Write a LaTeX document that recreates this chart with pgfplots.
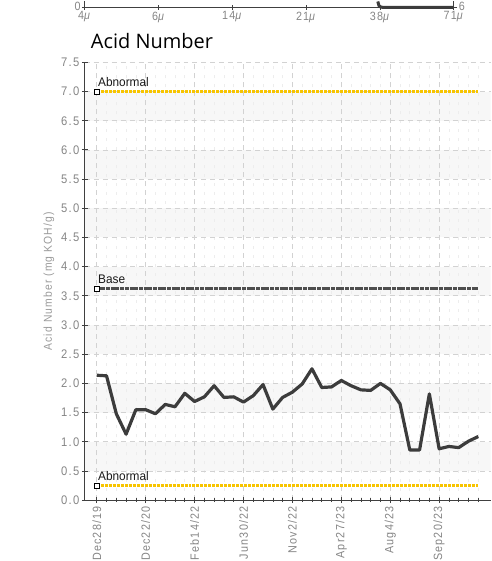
\documentclass[border=0pt]{standalone}
\usepackage{fontspec}
\setmainfont{Liberation Sans}
\newfontfamily\lbl[FakeStretch=0.9,LetterSpace=10]{Liberation Sans}
\newfontfamily\lblB[FakeStretch=0.95]{Liberation Sans}
\newfontfamily\ttl{Open Sans}
\usepackage{pgfplots}
\pgfplotsset{compat=1.18}
\definecolor{axisgray}{HTML}{404040}
\definecolor{labelgray}{HTML}{858585}
\definecolor{gridgray}{HTML}{D2D2D2}
\definecolor{limityellow}{HTML}{F7C400}
\definecolor{basegray}{HTML}{4E4E4E}
\definecolor{linegray}{HTML}{3C3C3C}

\pgfplotstableread{
idx val
0 2.14
1 2.13
2 1.48
3 1.13
4 1.55
5 1.55
6 1.48
7 1.64
8 1.60
9 1.83
10 1.69
11 1.77
12 1.96
13 1.76
14 1.77
15 1.68
16 1.79
17 1.98
18 1.56
19 1.76
20 1.85
21 1.99
22 2.25
23 1.93
24 1.94
25 2.05
26 1.96
27 1.89
28 1.88
29 2.00
30 1.89
31 1.65
32 0.86
33 0.86
34 1.82
35 0.88
36 0.92
37 0.90
38 1.01
39 1.09
}\acidtable

\begin{document}
\begin{tikzpicture}
\path (0pt,0pt) rectangle (492pt,561pt);

% remnant of the chart above (only its bottom edge is in view)
\begin{axis}[
  at={(85pt,555pt)}, anchor=south west,
  scale only axis, width=370pt, height=6pt,
  xmin=0, xmax=5, ymin=0, ymax=0.6,
  axis x line*=bottom, axis y line*=left,
  axis line style={axisgray, line width=0.9pt, -},
  xtick={0,...,5},
  xticklabels={4\textit{μ},6\textit{μ},14\textit{μ},21\textit{μ},38\textit{μ},71\textit{μ}},
  ytick=\empty,
  tick align=center, major tick length=5pt,
  tick style={axisgray, line width=0.8pt},
  ticklabel style={font=\lbl\fontsize{12}{14}\selectfont, text=labelgray},
  xticklabel style={yshift=-1.5pt, inner sep=0pt},
  /pgf/number format/assume math mode=true,
  clip=false,
]
\addplot[linegray, line width=3pt] coordinates {(3.97,0.6) (3.99,0.1) (4.04,0) (5,0)};
\draw[axisgray, line width=0.9pt] (rel axis cs:1,0) -- (rel axis cs:1,1);
\draw[axisgray, line width=0.8pt] ([xshift=-3pt]rel axis cs:0,0) -- ([xshift=3pt]rel axis cs:0,0);
\draw[axisgray, line width=0.8pt] ([xshift=-3pt]rel axis cs:1,0) -- ([xshift=3pt]rel axis cs:1,0);
\node[anchor=north east, inner sep=0pt, xshift=-4pt, font=\lbl\fontsize{12}{14}\selectfont, text=labelgray] at (rel axis cs:0,1) {0};
\node[anchor=north west, inner sep=0pt, xshift=5pt, font=\lbl\fontsize{12}{14}\selectfont, text=labelgray] at (rel axis cs:1,1) {6};
\end{axis}

\node[anchor=base west, inner sep=0pt, font=\ttl\fontsize{20}{24}\selectfont] at (91pt,514pt) {Acid Number};

% background bands
\begin{axis}[
  at={(85pt,61pt)}, anchor=south west,
  scale only axis, width=407pt, height=439pt,
  xmin=-1.224, xmax=40.27, ymin=0, ymax=7.5,
  hide axis,
]
\fill[black!3] (axis cs:-1.224,6.5) rectangle (axis cs:40.27,7.0);
\fill[black!3] (axis cs:-1.224,5.5) rectangle (axis cs:40.27,6.0);
\fill[black!3] (axis cs:-1.224,4.5) rectangle (axis cs:40.27,5.0);
\fill[black!3] (axis cs:-1.224,3.5) rectangle (axis cs:40.27,4.0);
\fill[black!3] (axis cs:-1.224,2.5) rectangle (axis cs:40.27,3.0);
\fill[black!3] (axis cs:-1.224,1.5) rectangle (axis cs:40.27,2.0);
\fill[black!3] (axis cs:-1.224,0.5) rectangle (axis cs:40.27,1.0);
\end{axis}

\begin{axis}[
  at={(85pt,61pt)}, anchor=south west,
  scale only axis, width=407pt, height=439pt,
  xmin=-1.224, xmax=40.27, ymin=0, ymax=7.5,
  axis x line*=bottom, axis y line*=left,
  axis line style={axisgray, line width=1.3pt, -},
  xtick={0,5,...,35},
  xticklabels={Dec28/19,Dec22/20,Feb14/22,Jun30/22,Nov2/22,Apr27/23,Aug4/23,Sep20/23},
  minor xtick={0,...,39},
  ytick={0,0.5,...,7.5},
  yticklabel={\pgfmathprintnumber[fixed,fixed zerofill,precision=1]{\tick}},
  tick align=center, major tick length=6pt, minor tick length=4pt,
  tick style={axisgray, line width=0.9pt},
  minor tick style={axisgray, line width=0.6pt},
  ticklabel style={font=\lbl\fontsize{12.5}{14}\selectfont, text=labelgray},
  xticklabel style={yshift=-3pt, rotate=90, anchor=east, inner sep=0pt, font=\lbl\fontsize{12}{14}\selectfont},
  yticklabel style={xshift=1pt},
  /pgf/number format/assume math mode=true,
  xmajorgrids, ymajorgrids, xminorgrids,
  major grid style={gridgray, dash pattern=on 5pt off 4pt, line width=0.7pt},
  minor grid style={black!7, dash pattern=on 3pt off 6pt, line width=0.6pt},
  ylabel={Acid Number (mg KOH/g)},
  ylabel style={font=\lbl\fontsize{11.5}{14}\selectfont, text=black!40},
  clip=false,
]
% limit lines
\addplot[limityellow, line width=2.8pt, dash pattern=on 3pt off 1pt,
  mark=square*, mark indices={1}, mark size=2.4pt,
  mark options={solid, fill=white, draw=black, line width=0.8pt}]
  coordinates {(0,7.0) (39,7.0)}
  node[pos=0, anchor=base west, inner sep=0pt, yshift=5pt, text=black!90,
       font=\lblB\fontsize{12.5}{14}\selectfont] {Abnormal};
\addplot[basegray, line width=2.8pt, dash pattern=on 4pt off 0.7pt,
  mark=square*, mark indices={1}, mark size=2.4pt,
  mark options={solid, fill=white, draw=black, line width=0.8pt}]
  coordinates {(0,3.62) (39,3.62)}
  node[pos=0, anchor=base west, inner sep=0pt, yshift=5pt, text=black!90,
       font=\lblB\fontsize{12.5}{14}\selectfont] {Base};
\addplot[limityellow, line width=2.8pt, dash pattern=on 3pt off 1pt,
  mark=square*, mark indices={1}, mark size=2.4pt,
  mark options={solid, fill=white, draw=black, line width=0.8pt}]
  coordinates {(0,0.25) (39,0.25)}
  node[pos=0, anchor=base west, inner sep=0pt, yshift=5pt, text=black!90,
       font=\lblB\fontsize{12.5}{14}\selectfont] {Abnormal};

% acid number
\addplot[linegray, line width=3.2pt, line join=round] table[x=idx, y=val] {\acidtable};
\end{axis}
\end{tikzpicture}
\end{document}
